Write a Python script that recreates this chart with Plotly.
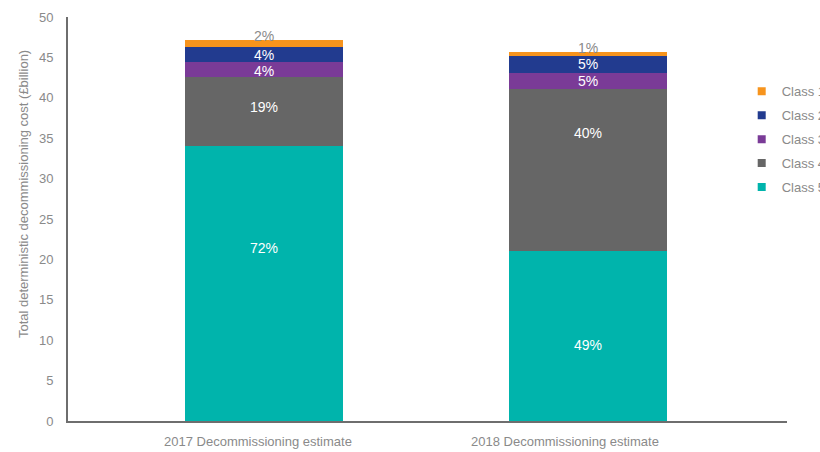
import plotly.graph_objects as go

# ---- data ----
categories = ["2017 Decommissioning estimate", "2018 Decommissioning estimate"]
class_names = ["Class 5", "Class 4", "Class 3", "Class 2", "Class 1"]
legend_order = ["Class 1", "Class 2", "Class 3", "Class 4", "Class 5"]
values = {
    "Class 5": [34.0, 21.0],
    "Class 4": [8.6, 20.05],
    "Class 3": [1.8, 2.05],
    "Class 2": [1.85, 2.1],
    "Class 1": [0.9, 0.5],
}
pct_labels = {
    "Class 5": ["72%", "49%"],
    "Class 4": ["19%", "40%"],
    "Class 3": ["4%", "5%"],
    "Class 2": ["4%", "5%"],
    "Class 1": ["2%", "1%"],
}
y_ticks = [0, 5, 10, 15, 20, 25, 30, 35, 40, 45, 50]

# ---- style ----
colors = {
    "Class 5": "#00B4AC",
    "Class 4": "#666666",
    "Class 3": "#7A3B97",
    "Class 2": "#223B8F",
    "Class 1": "#F7941D",
}
# vertical label placement within each segment (fraction of segment height)
label_frac = {
    "Class 5": [0.63, 0.45],
    "Class 4": [0.57, 0.73],
    "Class 3": [0.4, 0.5],
    "Class 2": [0.5, 0.5],
    "Class 1": [1.0, 1.0],
}
label_color = {"Class 1": "#8a8a8a"}
xlabel_shift = [-6, -23]
grey = "#8a8a8a"
axis_col = "#6e6e6e"
FONT = "Liberation Sans, Arial, sans-serif"

fig = go.Figure()
annotations = []
base = [0.0 for _ in categories]
for name in class_names:
    vals = values[name]
    fig.add_trace(go.Bar(
        x=categories, y=vals, name=name, width=0.49,
        marker=dict(color=colors[name], line=dict(width=0)),
        showlegend=False, hoverinfo="x+y+name",
    ))
    for i, cat in enumerate(categories):
        ypos = base[i] + vals[i] * label_frac[name][i]
        annotations.append(dict(
            x=cat, y=ypos, xref="x", yref="y", text=pct_labels[name][i],
            showarrow=False, yshift=4 if name == "Class 1" else 0,
            font=dict(family=FONT, size=14, color=label_color.get(name, "white")),
        ))
        base[i] += vals[i]

# legend entries (small square markers)
for name in legend_order:
    fig.add_trace(go.Scatter(
        x=[None], y=[None], mode="markers", name=name, legendgroup=name,
        marker=dict(symbol="square", size=8, color=colors[name]),
        showlegend=True,
    ))

for i, cat in enumerate(categories):
    annotations.append(dict(
        x=cat, y=0, xref="x", yref="y", text=cat, showarrow=False,
        yshift=-20, xshift=xlabel_shift[i],
        font=dict(family=FONT, size=13, color=grey),
    ))

annotations.append(dict(
    x=-0.061, y=0.562, xref="paper", yref="paper",
    text="Total deterministic decommissioning cost (£billion)",
    textangle=-90, showarrow=False, xanchor="center", yanchor="middle",
    font=dict(family=FONT, size=13, color=grey),
))

fig.update_layout(
    barmode="stack",
    width=820, height=452,
    margin=dict(l=68, r=33, t=17, b=31, autoexpand=False),
    paper_bgcolor="white", plot_bgcolor="white",
    font=dict(family=FONT, size=13, color=grey),
    showlegend=True,
    legend=dict(
        x=0.937, y=0.853, xanchor="left", yanchor="top",
        traceorder="grouped", tracegroupgap=4,
        font=dict(family=FONT, size=13, color=grey),
        bgcolor="rgba(0,0,0,0)", itemwidth=30,
    ),
    annotations=annotations,
    xaxis=dict(
        type="category", range=[-0.605, 1.614],
        showline=True, linecolor=axis_col, linewidth=2,
        showticklabels=False, ticks="", showgrid=False, zeroline=False,
    ),
    yaxis=dict(
        range=[0, 50], tickvals=y_ticks,
        showline=True, linecolor=axis_col, linewidth=2,
        showgrid=False, zeroline=False, ticks="",
        ticklabelstandoff=10,
        tickfont=dict(family=FONT, size=13, color=grey),
    ),
)

fig.write_html(
    "out.html",
    config={"displayModeBar": False},
    post_script="document.body.style.margin='0';document.body.style.overflow='hidden';",
)
